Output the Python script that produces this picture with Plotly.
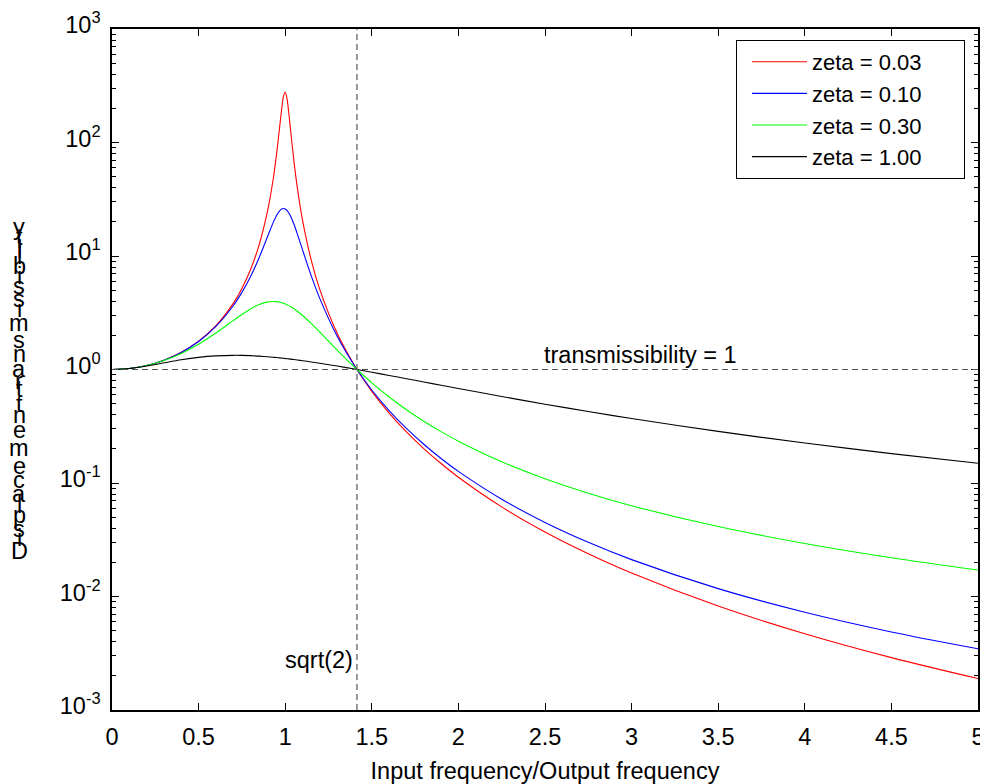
import plotly.graph_objects as go

# ---------------- data ----------------
freq_ratio = [0, 0.1, 0.2, 0.3, 0.4, 0.5, 0.6, 0.7, 0.75, 0.8, 0.85, 0.9, 0.93, 0.95,
              0.97, 0.98, 0.99, 1.0, 1.01, 1.02, 1.03, 1.05, 1.07, 1.1, 1.15, 1.2,
              1.3, 1.4, 1.4142, 1.5, 1.6, 1.7, 1.8, 1.9, 2.0, 2.25, 2.5, 2.75, 3.0,
              3.5, 4.0, 4.5, 5.0]

zeta_003 = [1.0, 1.020, 1.085, 1.208, 1.417, 1.777, 2.437, 3.826, 5.180, 7.599, 12.60,
            25.70, 46.95, 78.66, 145.8, 199.7, 255.7, 278.8, 246.2, 186.6, 133.3, 69.6,
            39.98, 20.72, 9.238, 5.057, 2.087, 1.084, 1.0, 0.6419, 0.4131, 0.2820,
            0.2012, 0.1484, 0.1125, 0.06163, 0.03707, 0.02384, 0.01612, 0.008247,
            0.004699, 0.002895, 0.001892]

zeta_010 = [1.0, 1.020, 1.085, 1.207, 1.414, 1.764, 2.393, 3.645, 4.780, 6.608, 9.715,
            15.07, 19.58, 22.72, 25.23, 25.97, 26.24, 26.0, 25.26, 24.08, 22.59, 19.12,
            15.66, 11.33, 6.710, 4.210, 1.964, 1.078, 1.0, 0.6596, 0.4347, 0.3025,
            0.2195, 0.1645, 0.1266, 0.07198, 0.04494, 0.03003, 0.02113, 0.01173,
            0.007268, 0.004874, 0.003466]

zeta_030 = [1.0, 1.020, 1.084, 1.200, 1.386, 1.671, 2.095, 2.695, 3.053, 3.418, 3.738,
            3.941, 3.979, 3.962, 3.912, 3.875, 3.830, 3.778, 3.719, 3.654, 3.584, 3.429,
            3.260, 2.993, 2.545, 2.133, 1.483, 1.048, 1.0, 0.7629, 0.5727, 0.4424,
            0.3503, 0.2835, 0.2337, 0.1540, 0.1090, 0.0813, 0.06306, 0.04131,
            0.02930, 0.02194, 0.01709]

zeta_100 = [1.0, 1.020, 1.073, 1.145, 1.219, 1.280, 1.319, 1.333, 1.331, 1.324, 1.311,
            1.294, 1.282, 1.274, 1.265, 1.260, 1.255, 1.250, 1.245, 1.240, 1.235, 1.224,
            1.213, 1.196, 1.166, 1.135, 1.072, 1.009, 1.0, 0.9467, 0.8869, 0.8300,
            0.7765, 0.7265, 0.6800, 0.5782, 0.4947, 0.4262, 0.3700, 0.2848,
            0.2249, 0.1816, 0.1494]

series_names = ["zeta = 0.03", "zeta = 0.10", "zeta = 0.30", "zeta = 1.00"]
series_colors = ["#ff0000", "#0000ff", "#00ff00", "#000000"]
series_values = [zeta_003, zeta_010, zeta_030, zeta_100]

y_tick_vals = [0.001, 0.01, 0.1, 1, 10, 100, 1000]
y_tick_text = ["10<sup>-3</sup>", "10<sup>-2</sup>", "10<sup>-1</sup>", "10<sup>0</sup>",
               "10<sup>1</sup>", "10<sup>2</sup>", "10<sup>3</sup>"]

x_title = "Input frequency/Output frequency"
y_title = "Displacement transmissibility"
unity_label = "transmissibility = 1"
sqrt2_label = "sqrt(2)"
sqrt2 = 1.4142

# ---------------- figure ----------------
FONT = "Liberation Sans, Arial, sans-serif"
FS = 23.5
LEG_FS = 22
OFF = 8                      # page body margin offsets the figure by 8px
W, H = 988 - OFF, 784 - OFF
L, T = 112 - OFF, 29 - OFF
R = W - (978 - OFF)
B = H - (710 - OFF)
PW, PH = W - L - R, H - T - B


def px_x(sx):
    return (sx - OFF - L) / PW


def px_y(sy):
    return (H - B - (sy - OFF)) / PH


fig = go.Figure()
for name, color, vals in zip(series_names, series_colors, series_values):
    fig.add_trace(go.Scatter(x=freq_ratio, y=vals, mode="lines",
                             name=name + "\u00a0" * 6,
                             line=dict(color=color, width=1.1, shape="spline",
                                       smoothing=0.8)))

# reference lines
fig.add_shape(type="line", xref="x", yref="paper", x0=sqrt2, x1=sqrt2, y0=0, y1=1,
              line=dict(color="#555555", width=1.2, dash="6px,4px"))
fig.add_shape(type="line", xref="paper", yref="y", x0=0, x1=1, y0=1, y1=1,
              line=dict(color="#555555", width=1.2, dash="6px,4px"))

annotations = [
    dict(x=2.5, y=0, xref="x", yref="y", text=unity_label, showarrow=False,
         xanchor="left", yanchor="bottom", yshift=0, xshift=-3,
         font=dict(family=FONT, size=FS, color="black")),
    dict(x=sqrt2, y=-2.56, xref="x", yref="y", text=sqrt2_label, showarrow=False,
         xanchor="right", yanchor="middle", xshift=-2,
         font=dict(family=FONT, size=FS, color="black")),
]

# stacked vertical y label (characters upright, spaced by advance width)
adv = {"D": 722, "i": 222, "s": 500, "p": 556, "l": 222, "a": 556, "c": 500, "e": 556,
       "m": 833, "n": 556, "t": 278, " ": 278, "r": 333, "b": 556, "y": 500}
cum = 0.0
centers = []
for ch in y_title:
    w = adv.get(ch, 556) / 1000.0
    centers.append(cum + w / 2)
    cum += w
bottom_px, top_px = 551, 227
scale = (bottom_px - top_px) / (centers[-1] - centers[0])
for ch, c in zip(y_title, centers):
    if ch == " ":
        continue
    py = bottom_px - (c - centers[0]) * scale
    annotations.append(dict(x=px_x(19), y=px_y(py), xref="paper", yref="paper",
                            text=ch, showarrow=False, xanchor="center", yanchor="middle",
                            font=dict(family=FONT, size=FS, color="black")))

fig.update_layout(
    width=W, height=H,
    margin=dict(l=L, r=R, t=T, b=B, autoexpand=False),
    paper_bgcolor="white", plot_bgcolor="white",
    font=dict(family=FONT, size=FS, color="black"),
    showlegend=True,
    legend=dict(x=px_x(965), y=px_y(40), xanchor="right", yanchor="top",
                bgcolor="white", bordercolor="black", borderwidth=1,
                font=dict(family=FONT, size=LEG_FS), tracegroupgap=0,
                itemwidth=55, indentation=10),
    annotations=annotations,
    xaxis=dict(
        title=dict(text=x_title, standoff=17, font=dict(family=FONT, size=FS)),
        range=[0, 5], dtick=0.5, tick0=0, automargin=False,
        showgrid=False, zeroline=False,
        showline=True, linecolor="black", linewidth=1.5, mirror="ticks",
        ticks="inside", ticklen=7, tickwidth=1, tickcolor="black",
        ticklabelstandoff=5, ticklabeloverflow="allow",
        tickfont=dict(family=FONT, size=FS),
    ),
    yaxis=dict(
        type="log", range=[-3, 3], automargin=False,
        tickmode="array", tickvals=y_tick_vals, ticktext=y_tick_text,
        showgrid=False, zeroline=False,
        showline=True, linecolor="black", linewidth=1.5, mirror="ticks",
        ticks="inside", ticklen=7, tickwidth=1, tickcolor="black",
        minor=dict(ticks="inside", ticklen=4, tickcolor="black", dtick="D1", showgrid=False),
        ticklabelstandoff=5, ticklabelshift=-4, ticklabeloverflow="allow",
        tickfont=dict(family=FONT, size=FS),
    ),
)

fig.write_html("out.html")
